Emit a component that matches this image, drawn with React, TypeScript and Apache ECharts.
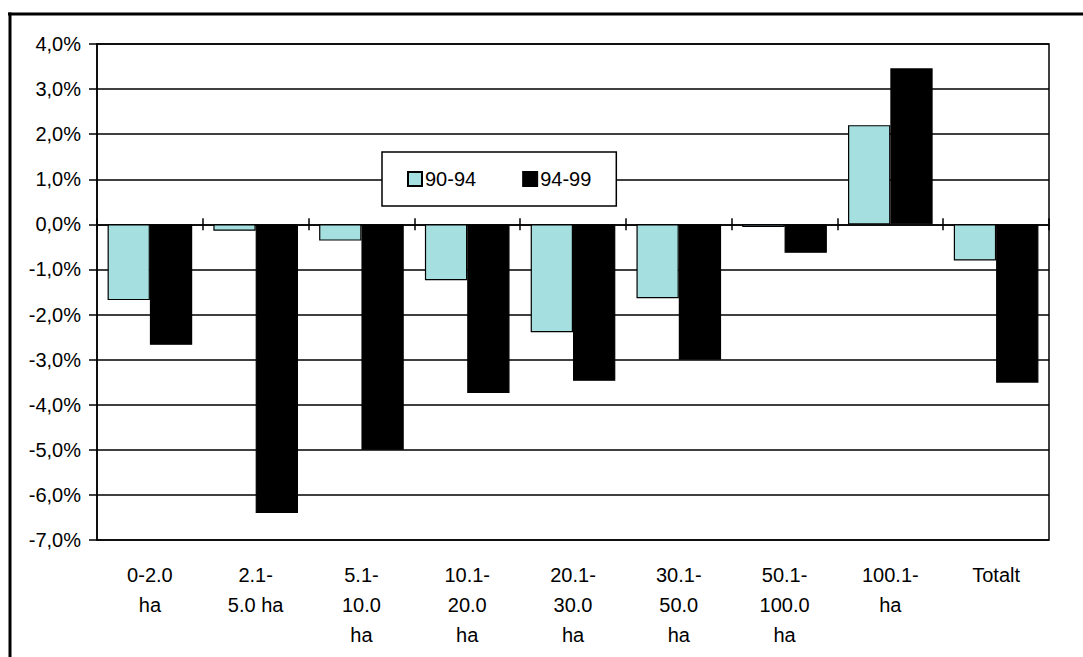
import React, { useEffect, useRef } from "react";
import * as echarts from "echarts";

const categories = [
  "0-2.0\nha",
  "2.1-\n5.0 ha",
  "5.1-\n10.0\nha",
  "10.1-\n20.0\nha",
  "20.1-\n30.0\nha",
  "30.1-\n50.0\nha",
  "50.1-\n100.0\nha",
  "100.1-\nha",
  "Totalt",
];
const series9094 = [-1.68, -0.14, -0.36, -1.24, -2.39, -1.64, -0.06, 2.2, -0.8];
const series9499 = [-2.67, -6.4, -5.0, -3.74, -3.47, -3.0, -0.63, 3.46, -3.51];
const seriesNames = ["90-94", "94-99"];
const yMin = -7;
const yMax = 4;
const yStep = 1;

const FONT = "'Liberation Sans', Arial, sans-serif";

export default function App() {
  const ref = useRef<HTMLDivElement>(null);
  useEffect(() => {
    if (!ref.current) return;
    const chart = echarts.init(ref.current, null, { renderer: "svg" });
    const zeroAxisBase = {
      type: "category",
      data: categories,
      boundaryGap: true,
      axisLabel: { show: false },
      splitLine: { show: false },
    };
    chart.setOption({
      animation: false,
      backgroundColor: "#fff",
      textStyle: { fontFamily: FONT },
      grid: {
        left: 97,
        top: 44,
        width: 952,
        height: 496,
        show: true,
        borderColor: "#000",
        borderWidth: 1.5,
        backgroundColor: "transparent",
      },
      legend: {
        left: 382,
        top: 152,
        padding: [17, 25, 17, 25],
        itemGap: 46,
        itemWidth: 14,
        itemHeight: 14,
        icon: "rect",
        backgroundColor: "#fff",
        borderColor: "#000",
        borderWidth: 1.5,
        borderRadius: 0,
        textStyle: { fontSize: 20, color: "#000", fontFamily: FONT, padding: [0, 0, 0, -2] },
        data: seriesNames,
      },
      xAxis: [
        {
          type: "category",
          data: categories,
          position: "bottom",
          axisLine: { show: false, onZero: false },
          axisTick: { show: false },
          splitLine: { show: false },
          axisLabel: {
            interval: 0,
            margin: 20,
            fontSize: 20,
            lineHeight: 30,
            color: "#000",
            fontFamily: FONT,
          },
        },
        {
          ...zeroAxisBase,
          position: "bottom",
          axisLine: { show: true, onZero: true, onZeroAxisIndex: 0, lineStyle: { color: "#000", width: 1.5 } },
          axisTick: { show: true, length: 6, interval: 0, lineStyle: { color: "#000", width: 1.5 } },
        },
        {
          ...zeroAxisBase,
          position: "top",
          axisLine: { show: false, onZero: true, onZeroAxisIndex: 0 },
          axisTick: { show: true, length: 6, interval: 0, lineStyle: { color: "#000", width: 1.5 } },
        },
      ],
      yAxis: {
        type: "value",
        min: yMin,
        max: yMax,
        interval: yStep,
        axisLine: { show: true, lineStyle: { color: "#000", width: 1.5 } },
        axisTick: { show: true, length: 8, lineStyle: { color: "#000", width: 1.5 } },
        splitLine: { show: true, lineStyle: { color: "#000", width: 1.6 } },
        axisLabel: {
          margin: 16,
          fontSize: 20,
          color: "#000",
          fontFamily: FONT,
          formatter: (v: number) => v.toFixed(1).replace(".", ",") + "%",
        },
      },
      series: [
        {
          name: seriesNames[0],
          type: "bar",
          xAxisIndex: 0,
          data: series9094,
          barGap: "0%",
          barCategoryGap: "20%",
          itemStyle: { color: "#A5DFE0", borderColor: "#000", borderWidth: 1.2 },
        },
        {
          name: seriesNames[1],
          type: "bar",
          xAxisIndex: 0,
          data: series9499,
          barGap: "0%",
          barCategoryGap: "20%",
          itemStyle: { color: "#000", borderColor: "#000", borderWidth: 1.2 },
        },
      ],
      graphic: [
        { type: "line", shape: { x1: 8, y1: 14, x2: 1083, y2: 14 }, style: { stroke: "#000", lineWidth: 3 }, z: 10 },
        { type: "line", shape: { x1: 10, y1: 12.5, x2: 10, y2: 657 }, style: { stroke: "#000", lineWidth: 3 }, z: 10 },
      ],
    });
    return () => chart.dispose();
  }, []);
  return (
    <div
      ref={ref}
      style={{ position: "absolute", left: 0, top: 0, width: 1083, height: 657 }}
    />
  );
}
